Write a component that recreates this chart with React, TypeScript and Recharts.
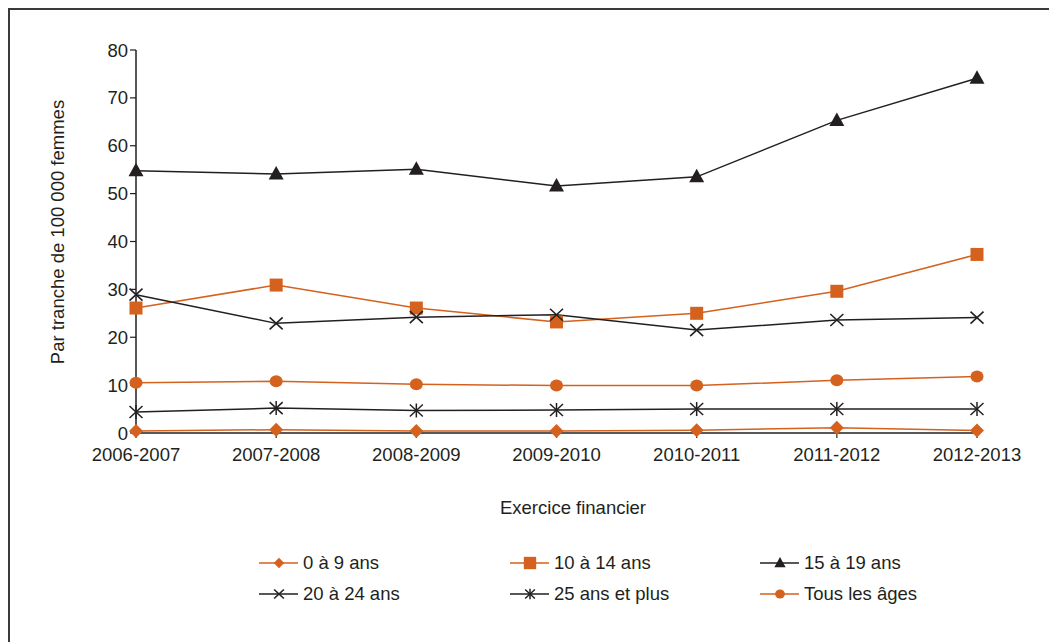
import React from 'react'
import { LineChart, Line, XAxis, YAxis } from 'recharts'

const categories = ['2006-2007', '2007-2008', '2008-2009', '2009-2010', '2010-2011', '2011-2012', '2012-2013']

const age0to9 = [0.4, 0.7, 0.4, 0.4, 0.6, 1.1, 0.5]
const age10to14 = [26.1, 30.9, 26.1, 23.2, 25.0, 29.6, 37.3]
const age15to19 = [54.8, 54.1, 55.1, 51.6, 53.5, 65.3, 74.1]
const age20to24 = [28.9, 22.9, 24.2, 24.7, 21.5, 23.6, 24.1]
const age25plus = [4.4, 5.2, 4.7, 4.8, 5.0, 5.0, 5.0]
const allAges = [10.5, 10.8, 10.2, 9.9, 9.9, 11.0, 11.8]

const yTicks = [0, 10, 20, 30, 40, 50, 60, 70, 80]

const ORANGE = '#d5611e'
const BLACK = '#231f20'
const FONT = '"Liberation Sans", Arial, sans-serif'

const data = categories.map((year, i) => ({
  year,
  a0: age0to9[i],
  a10: age10to14[i],
  a15: age15to19[i],
  a20: age20to24[i],
  a25: age25plus[i],
  all: allAges[i],
}))

type Shape = 'diamond' | 'square' | 'triangle' | 'x' | 'star' | 'circle'

// marker drawn around (cx, cy)
function marker(shape: Shape, cx: number, cy: number, color: string, s = 1) {
  switch (shape) {
    case 'diamond':
      return <polygon points={`${cx},${cy - 7 * s} ${cx + 7 * s},${cy} ${cx},${cy + 7 * s} ${cx - 7 * s},${cy}`} fill={color} />
    case 'square':
      return <rect x={cx - 6.5 * s} y={cy - 6.5 * s} width={13 * s} height={13 * s} fill={color} />
    case 'triangle':
      return <polygon points={`${cx},${cy - 8 * s} ${cx + 7.5 * s},${cy + 5.5 * s} ${cx - 7.5 * s},${cy + 5.5 * s}`} fill={color} />
    case 'x':
      return (
        <g stroke={color} strokeWidth={1.6}>
          <line x1={cx - 6.5 * s} y1={cy - 6 * s} x2={cx + 6.5 * s} y2={cy + 6 * s} />
          <line x1={cx - 6.5 * s} y1={cy + 6 * s} x2={cx + 6.5 * s} y2={cy - 6 * s} />
        </g>
      )
    case 'star':
      return (
        <g stroke={color} strokeWidth={1.5}>
          <line x1={cx - 6.5 * s} y1={cy - 6 * s} x2={cx + 6.5 * s} y2={cy + 6 * s} />
          <line x1={cx - 6.5 * s} y1={cy + 6 * s} x2={cx + 6.5 * s} y2={cy - 6 * s} />
          <line x1={cx} y1={cy - 7 * s} x2={cx} y2={cy + 7 * s} />
        </g>
      )
    case 'circle':
      return <ellipse cx={cx} cy={cy} rx={6.5 * s} ry={6 * s} fill={color} />
  }
}

const dotFor = (shape: Shape, color: string) => (props: any) => (
  <g key={`${shape}-${props.index}`}>{marker(shape, props.cx, props.cy, color)}</g>
)

const series: { key: string; name: string; color: string; shape: Shape }[] = [
  { key: 'a0', name: '0 à 9 ans', color: ORANGE, shape: 'diamond' },
  { key: 'a10', name: '10 à 14 ans', color: ORANGE, shape: 'square' },
  { key: 'a15', name: '15 à 19 ans', color: BLACK, shape: 'triangle' },
  { key: 'a20', name: '20 à 24 ans', color: BLACK, shape: 'x' },
  { key: 'a25', name: '25 ans et plus', color: BLACK, shape: 'star' },
  { key: 'all', name: 'Tous les âges', color: ORANGE, shape: 'circle' },
]

function LegendBlock() {
  const colX = [259, 510, 760]
  const rowY = [563, 594]
  return (
    <>
      {series.map((s, i) => {
        const left = colX[i % 3]
        const top = rowY[Math.floor(i / 3)]
        return (
          <div
            key={s.key}
            style={{ position: 'absolute', left, top: top - 12, height: 24, display: 'flex', alignItems: 'center' }}
          >
            <svg width={40} height={24} style={{ display: 'block' }}>
              <line x1={0} y1={12} x2={39} y2={12} stroke={s.color} strokeWidth={1.5} />
              {marker(s.shape, 20, 12, s.color, s.shape === 'square' ? 0.95 : 0.75)}
            </svg>
            <span style={{ marginLeft: 4, fontSize: 18.5, color: BLACK, fontFamily: FONT, whiteSpace: 'nowrap' }}>
              {s.name}
            </span>
          </div>
        )
      })}
    </>
  )
}

export default function App() {
  return (
    <div
      style={{
        position: 'fixed',
        left: 0,
        top: 0,
        width: 1049,
        height: 642,
        overflow: 'hidden',
        background: '#fff',
        fontFamily: FONT,
      }}
    >
      <div
        style={{
          position: 'absolute',
          left: 8,
          top: 8,
          width: 1100,
          height: 700,
          borderTop: '2px solid #3a3a3a',
          borderLeft: '2px solid #3a3a3a',
        }}
      />
      <div style={{ position: 'absolute', left: 0, top: 0 }}>
        <LineChart width={1049} height={642} data={data} margin={{ top: 50, right: 72, bottom: 149, left: 0 }}>
          <XAxis
            dataKey="year"
            interval={0}
            padding={{ left: 0, right: 0 }}
            height={60}
            tickSize={5}
            tickMargin={10}
            axisLine={{ stroke: BLACK, strokeWidth: 1.5 }}
            tickLine={{ stroke: BLACK, strokeWidth: 1.2 }}
            tick={{ fill: BLACK, fontSize: 18.5, fontFamily: FONT }}
            label={{
              content: () => (
                <text x={573} y={514} textAnchor="middle" fill={BLACK} fontSize={18.5} fontFamily={FONT}>
                  Exercice financier
                </text>
              ),
            }}
          />
          <YAxis
            domain={[0, 80]}
            ticks={yTicks}
            width={136}
            tickSize={6}
            tickMargin={2}
            axisLine={{ stroke: BLACK, strokeWidth: 1.5 }}
            tickLine={{ stroke: BLACK, strokeWidth: 1.2 }}
            tick={{ fill: BLACK, fontSize: 18.5, fontFamily: FONT }}
            label={{
              content: () => (
                <text
                  x={57}
                  y={232}
                  transform="rotate(-90 57 232)"
                  textAnchor="middle"
                  dominantBaseline="central"
                  fill={BLACK}
                  fontSize={18.5}
                  fontFamily={FONT}
                >
                  Par tranche de 100 000 femmes
                </text>
              ),
            }}
          />
          {series.map((s) => (
            <Line
              key={s.key}
              type="linear"
              dataKey={s.key}
              name={s.name}
              stroke={s.color}
              strokeWidth={1.5}
              dot={dotFor(s.shape, s.color)}
              activeDot={false}
              isAnimationActive={false}
            />
          ))}
        </LineChart>
      </div>
      <LegendBlock />
    </div>
  )
}
